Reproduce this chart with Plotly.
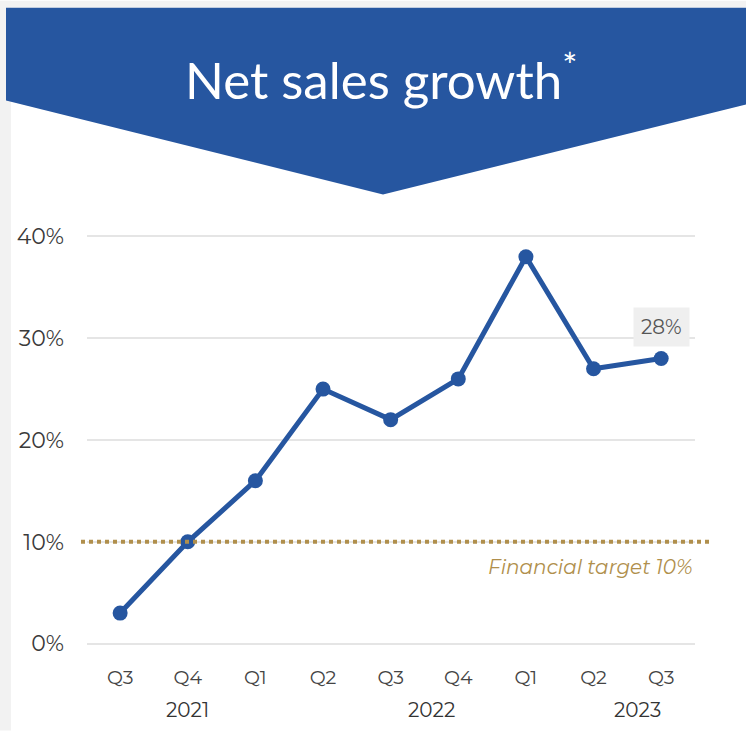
import plotly.graph_objects as go

# Quarterly net sales growth (%)
quarters = ["Q3", "Q4", "Q1", "Q2", "Q3", "Q4", "Q1", "Q2", "Q3"]
growth = [3, 10, 16, 25, 22, 26, 38, 27, 28]
years = ["2021", "2022", "2023"]
year_pos = [1.0, 4.6, 7.65]
target = 10
y_ticks = [0, 10, 20, 30, 40]

W, H = 746, 731
PL, PR = 87, 695          # plot area left/right in px
Y0_PX, Y40_PX = 644, 236  # pixel rows of 0% and 40%
ppu = (Y0_PX - Y40_PX) / 40.0
y_range = [-2, 42]
PT = Y40_PX - (y_range[1] - 40) * ppu
PB = Y0_PX + (0 - y_range[0]) * ppu

x_idx = list(range(len(quarters)))
x_range = [-0.49, 8.5]


def px_x(p):
    return (p - PL) / (PR - PL)


def px_y(p):
    return (PB - p) / (PB - PT)


BLUE = "#2656a0"
GOLD = "#b08f4c"
FONT = "Montserrat, Lato, sans-serif"

fig = go.Figure()

fig.add_trace(go.Scatter(
    x=x_idx, y=growth, mode="lines+markers",
    line=dict(color=BLUE, width=5),
    marker=dict(color=BLUE, size=15),
    hoverinfo="skip", cliponaxis=False,
))

shapes = []
# grey frame strips
shapes.append(dict(type="rect", xref="paper", yref="paper",
                   x0=px_x(0), x1=px_x(11), y0=px_y(H), y1=px_y(0),
                   fillcolor="#f2f2f2", line=dict(width=0), layer="below"))
shapes.append(dict(type="rect", xref="paper", yref="paper",
                   x0=px_x(0), x1=px_x(W), y0=px_y(7), y1=px_y(0),
                   fillcolor="#f2f2f2", line=dict(width=0), layer="below"))
# banner
pts = [(6, 7), (W, 7), (W, 104), (383, 194), (6, 100)]
path = "M " + " L ".join(f"{px_x(a)},{px_y(b)}" for a, b in pts) + " Z"
shapes.append(dict(type="path", xref="paper", yref="paper", path=path,
                   fillcolor=BLUE, line=dict(width=0), layer="below"))
# target line, reaching a little past both plot edges, drawn on top
shapes.append(dict(type="line", xref="paper", yref="y",
                   x0=px_x(81), x1=px_x(709), y0=target, y1=target,
                   line=dict(color=GOLD, width=4, dash="4px,4px"),
                   layer="above"))

annotations = [
    dict(text="Net sales growth<sup>*</sup>", xref="paper", yref="paper",
         x=px_x(381), y=px_y(76), xanchor="center", yanchor="middle",
         showarrow=False,
         font=dict(family="Lato, sans-serif", size=51, color="white")),
    dict(text=f"Financial target {target}%", xref="paper", yref="y",
         x=1.0, y=target, yshift=-25, xanchor="right", showarrow=False,
         font=dict(family=FONT, size=20, color=GOLD, style="italic")),
    dict(text=f"{growth[-1]}%", x=x_idx[-1], y=growth[-1], yshift=32,
         showarrow=False, bgcolor="#efefef", borderpad=7,
         font=dict(family=FONT, size=20, color="#555555")),
]
for yr, pos in zip(years, year_pos):
    annotations.append(dict(text=yr, x=pos, xref="x", yref="paper",
                            y=px_y(710), yanchor="middle", showarrow=False,
                            font=dict(family=FONT, size=20, color="#333333")))

fig.update_layout(
    width=W, height=H,
    margin=dict(l=PL, r=W - PR, t=PT, b=H - PB),
    paper_bgcolor="white", plot_bgcolor="white",
    showlegend=False,
    shapes=shapes, annotations=annotations,
    xaxis=dict(range=x_range, tickmode="array", tickvals=x_idx,
               ticktext=quarters, showgrid=False, zeroline=False,
               showline=False, ticks="",
               tickfont=dict(family=FONT, size=19, color="#444444")),
    yaxis=dict(range=y_range, tickmode="array", tickvals=y_ticks,
               ticktext=[f"{v}%" for v in y_ticks], showgrid=True,
               gridcolor="#e5e5e5", gridwidth=2, zeroline=False,
               showline=False, ticks="", ticklabelstandoff=22,
               tickfont=dict(family=FONT, size=22, color="#3a3a3a")),
)

fig.write_html("out.html")
